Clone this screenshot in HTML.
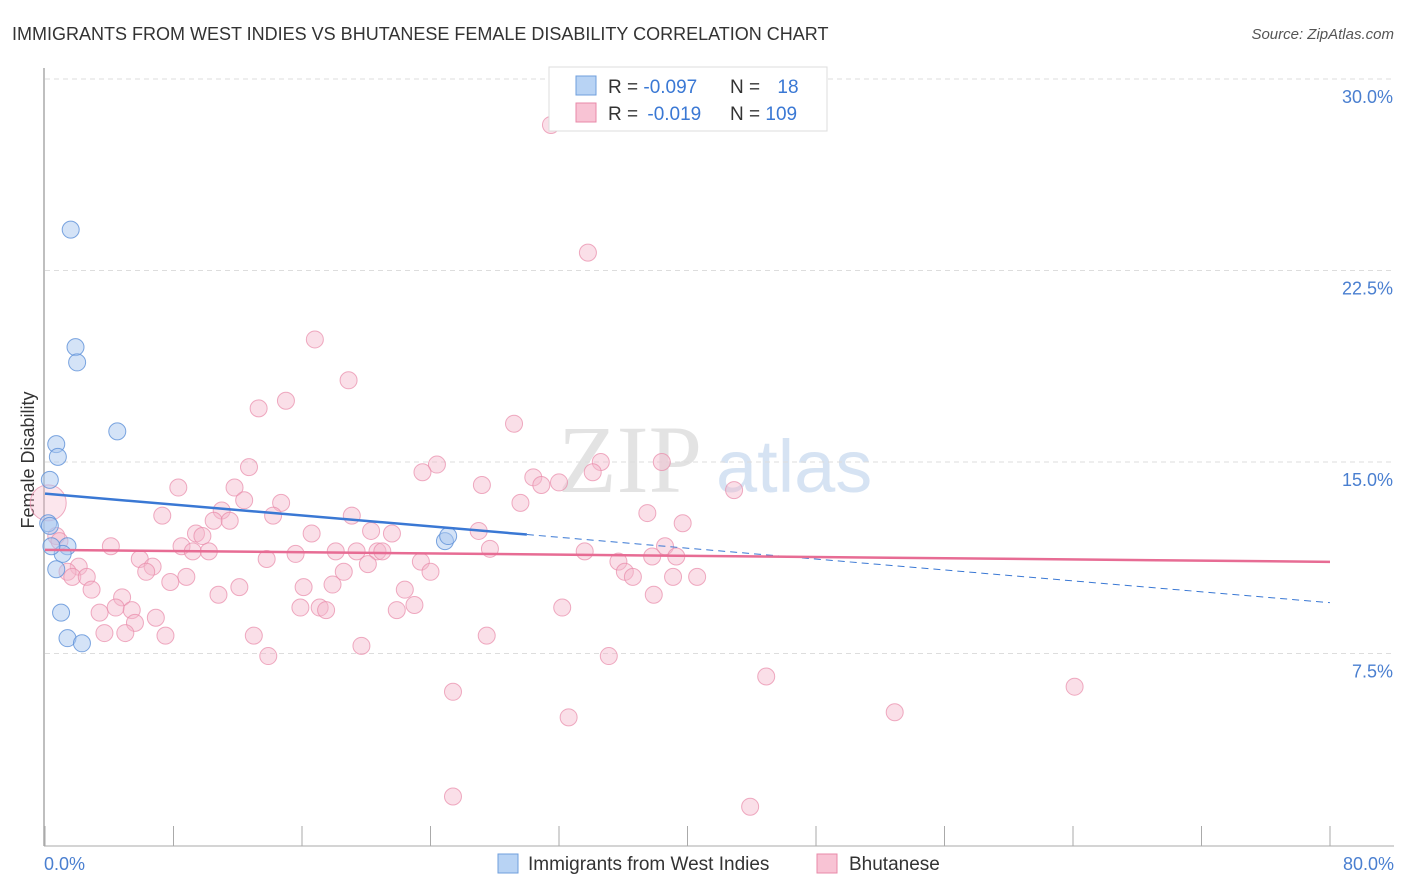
<!DOCTYPE html>
<html><head><meta charset="utf-8"><style>
body{margin:0;background:#fff;font-family:"Liberation Sans",sans-serif;}
svg{display:block}
</style></head><body>
<svg id="c" width="1406" height="892" xmlns="http://www.w3.org/2000/svg">
<text x="12" y="40" font-size="18" fill="#333">IMMIGRANTS FROM WEST INDIES VS BHUTANESE FEMALE DISABILITY CORRELATION CHART</text>
<text x="1394" y="39" font-size="15" fill="#555" font-style="italic" text-anchor="end">Source: ZipAtlas.com</text>
<text x="34" y="460" font-size="18" fill="#333" text-anchor="middle" transform="rotate(-90 34 460)">Female Disability</text>
<g>
<text x="558" y="492" font-size="96" fill="#d8d8d8" font-family="Liberation Serif,serif" opacity="0.7">ZIP</text>
<text x="716" y="492" font-size="74" fill="#c6d8ef" opacity="0.7">atlas</text>
</g>
<g id="grid"></g><g id="pts"></g><g id="lines"></g>
<g>
<rect x="549" y="67" width="278" height="64" fill="#fff" stroke="#ddd"/>
<rect x="576" y="76" width="20" height="19" fill="#b8d3f4" stroke="#6f9fdc"/>
<rect x="576" y="103" width="20" height="19" fill="#f8c3d4" stroke="#e889a8"/>
<text x="608" y="93" font-size="19" fill="#333">R = <tspan fill="#3a78d4">-0.097</tspan></text>
<text x="730" y="93" font-size="19" fill="#333">N = <tspan fill="#3a78d4" dx="12">18</tspan></text>
<text x="608" y="120" font-size="19" fill="#333">R = <tspan fill="#3a78d4" dx="4">-0.019</tspan></text>
<text x="730" y="120" font-size="19" fill="#333">N = <tspan fill="#3a78d4">109</tspan></text>
</g>
<g>
<rect x="498" y="854" width="20" height="19" fill="#b8d3f4" stroke="#6f9fdc"/>
<text x="528" y="870" font-size="19" fill="#333">Immigrants from West Indies</text>
<rect x="817" y="854" width="20" height="19" fill="#f8c3d4" stroke="#e889a8"/>
<text x="849" y="870" font-size="19" fill="#333">Bhutanese</text>
</g>
</svg>
<script>
const yTicks=[7.5,15,22.5,30];
const yTickLabels=["7.5%","15.0%","22.5%","30.0%"];
const xTicks=[0,8,16,24,32,40,48,56,64,72,80];
const xEndLabels=["0.0%","80.0%"];
const blueX=[1.6,1.9,2.0,4.5,0.7,0.8,0.3,0.2,0.3,1.4,1.1,0.7,1.0,1.4,2.3,24.9,25.1,0.4];
const blueY=[24.1,19.5,18.9,16.2,15.7,15.2,14.3,12.6,12.5,11.7,11.4,10.8,9.1,8.1,7.9,11.9,12.1,11.7];
const pinkX=[31.5,33.8,16.8,18.9,15.0,13.3,29.2,12.7,24.4,23.5,34.6,38.4,34.1,30.4,30.9,32.0,27.2,8.3,11.8,42.9,14.7,12.4,29.6,11.0,7.3,10.5,11.5,19.1,37.5,39.7,14.2,20.3,27.0,21.6,9.4,9.8,16.6,0.7,0.9,4.1,8.5,9.2,10.2,15.6,18.1,19.4,20.7,21.0,27.7,33.6,38.6,39.3,37.8,13.8,5.9,6.7,6.3,20.1,35.7,36.1,36.6,39.1,40.6,2.1,1.4,1.7,2.6,8.8,7.8,18.6,23.4,24.0,2.9,12.1,16.1,17.9,22.4,10.8,4.8,37.9,3.4,4.4,5.4,6.9,15.9,17.1,17.5,23.0,21.9,32.2,5.6,3.7,5.0,7.5,13.0,27.5,19.7,13.9,35.1,44.9,64.1,25.4,52.9,32.6,25.4,43.9,0.2];
const pinkY=[28.2,23.2,19.8,18.2,17.4,17.1,16.5,14.8,14.9,14.6,15.0,15.0,14.6,14.4,14.1,14.2,14.1,14.0,14.0,13.9,13.4,13.5,13.4,13.1,12.9,12.7,12.7,12.9,13.0,12.6,12.9,12.3,12.3,12.2,12.2,12.1,12.2,12.1,11.9,11.7,11.7,11.5,11.5,11.4,11.5,11.5,11.5,11.5,11.6,11.5,11.7,11.3,11.3,11.2,11.2,10.9,10.7,11.0,11.1,10.7,10.5,10.5,10.5,10.9,10.7,10.5,10.5,10.5,10.3,10.7,11.1,10.7,10.0,10.1,10.1,10.2,10.0,9.8,9.7,9.8,9.1,9.3,9.2,8.9,9.3,9.3,9.2,9.4,9.2,9.3,8.7,8.3,8.3,8.2,8.2,8.2,7.8,7.4,7.4,6.6,6.2,6.0,5.2,5.0,1.9,1.5,13.4];
const blueTrend=[13.76,9.49]; // y at x=0 and x=80
const pinkTrend=[11.56,11.09];
const blueSolidEnd=30;
const X=v=>45+v/80*1285, Y=v=>845-v/7.5*191.5;
const NS="http://www.w3.org/2000/svg";
function mk(t,a,p){const e=document.createElementNS(NS,t);for(const k in a)e.setAttribute(k,a[k]);p.appendChild(e);return e;}
const g=document.getElementById('grid');
const ax=mk('line',{x1:44,y1:68,x2:44,y2:846,stroke:'#aaa','stroke-width':1.5},g);


const bx=mk('line',{x1:44,y1:846,x2:1394,y2:846,stroke:'#aaa','stroke-width':1},g);


yTicks.forEach((t,i)=>{
 const l=mk('line',{x1:45,x2:1394,y1:Y(t),y2:Y(t),stroke:'#ddd','stroke-dasharray':'5,4'},g);
 
 
 const tx=mk('text',{x:1393,y:Y(t)+24,'font-size':18,fill:'#4a7fd0','text-anchor':'end'},g);
 tx.textContent=yTickLabels[i];
 
 
});
xTicks.forEach(t=>{
 const l=mk('line',{x1:X(t),x2:X(t),y1:826,y2:846,stroke:'#aaa'},g);
 
 
});
[[0,'start',44],[80,'end',1394]].forEach((d,i)=>{
 const tx=mk('text',{x:d[2],y:870,'font-size':18,fill:'#4a7fd0','text-anchor':d[1]},g);
 tx.textContent=xEndLabels[i];
 
 
});
const p=document.getElementById('pts');
pinkX.forEach((x,i)=>{
 const big=i===pinkX.length-1;
 const c=mk('circle',{cx:X(x),cy:Y(pinkY[i]),r:big?18:8.5,fill:'#f5b8cc','fill-opacity':big?0.35:0.45,stroke:'#e889a8','stroke-opacity':0.7,'stroke-width':1},p);
 
 
});
blueX.forEach((x,i)=>{
 const c=mk('circle',{cx:X(x),cy:Y(blueY[i]),r:8.5,fill:'#a9c8ef','fill-opacity':0.5,stroke:'#5d90d8','stroke-opacity':0.8,'stroke-width':1},p);
 
 
});
const L=document.getElementById('lines');
const by=x=>blueTrend[0]+(blueTrend[1]-blueTrend[0])*x/80;
const l1=mk('line',{x1:X(0),y1:Y(by(0)),x2:X(blueSolidEnd),y2:Y(by(blueSolidEnd)),stroke:'#3a78d4','stroke-width':2.5},L);


const l2=mk('line',{x1:X(blueSolidEnd),y1:Y(by(blueSolidEnd)),x2:X(80),y2:Y(by(80)),stroke:'#3a78d4','stroke-width':1,'stroke-dasharray':'7,5'},L);


const l3=mk('line',{x1:X(0),y1:Y(pinkTrend[0]),x2:X(80),y2:Y(pinkTrend[1]),stroke:'#e76c94','stroke-width':2.5},L);


</script>
</body></html>
